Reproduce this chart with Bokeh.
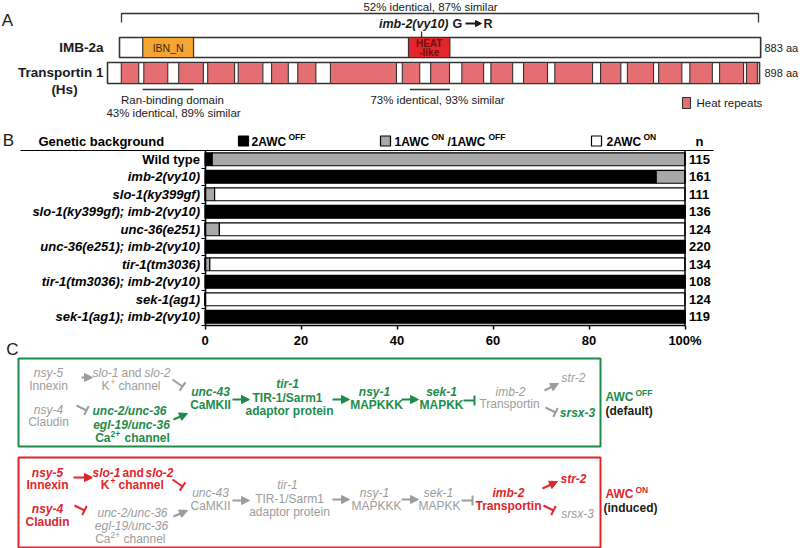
from bokeh.plotting import figure
from bokeh.models import (Range1d, ColumnDataSource, Arrow, NormalHead, TeeHead, FixedTicker)
from bokeh.layouts import column
from bokeh.embed import file_html
from bokeh.resources import INLINE
from bokeh.core.properties import value, field

FONT = "Liberation Sans"

# ---------------- Panel A data (protein domains, amino-acid positions) ----------------
imb2_length_aa = 883
trn1_length_aa = 898
imb2_ibn_n = [32, 102]
imb2_heat_like = [398, 455]
imb2_vy10_site = 416
trn1_heat_start = [19, 50, 98, 138, 180, 226, 262, 307, 406, 445,
                   488, 528, 573, 616, 679, 716, 759, 802, 843, 880]
trn1_heat_end = [43, 83, 132, 175, 214, 249, 287, 398, 430, 471,
                 518, 558, 606, 668, 707, 752, 791, 833, 876, 895]

# ---------------- Panel B data ----------------
genotypes = ["Wild type", "imb-2(vy10)", "slo-1(ky399gf)", "slo-1(ky399gf); imb-2(vy10)",
             "unc-36(e251)", "unc-36(e251); imb-2(vy10)", "tir-1(tm3036)",
             "tir-1(tm3036); imb-2(vy10)", "sek-1(ag1)", "sek-1(ag1); imb-2(vy10)"]
genotype_style = ["bold"] + ["bold italic"] * 9
pct_2awc_off = [1.5, 94, 0, 100, 0, 100, 0, 100, 0, 100]
pct_1on_1off = [98.5, 6, 2, 0, 3, 0, 1, 0, 0, 0]
pct_2awc_on = [0, 0, 98, 0, 97, 0, 99, 0, 100, 0]
n_animals = [115, 161, 111, 136, 124, 220, 134, 108, 124, 119]
pct_ticks = [0, 20, 40, 60, 80, 100]

# colours
C_EDGE = "#333333"
C_IBN = "#f5a531"
C_HEATLIKE = "#e2262b"
C_REPEAT = "#e46e72"
C_OFF = "#000000"
C_MID = "#a8a8a8"
C_ON = "#ffffff"
G = "#1d8c4a"
R = "#e0252b"
GR = "#9c9c9c"
K = "#1a1a1a"

STYLE = {"n": "normal", "i": "italic", "b": "bold", "bi": "bold italic"}


def add_texts(p, items, **kw):
    d = dict(x=[], y=[], text=[], color=[], style=[], size=[], align=[])
    for it in items:
        x, y, t, c, s, sz, al = it
        d["x"].append(x); d["y"].append(y); d["text"].append(t); d["color"].append(c)
        d["style"].append(STYLE[s]); d["size"].append(f"{sz}px"); d["align"].append(al)
    src = ColumnDataSource(d)
    p.text(x="x", y="y", text="text", source=src, text_color=field("color"),
           text_font_style=field("style"), text_font_size=field("size"),
           text_align=field("align"), text_baseline="middle", text_font=value(FONT), **kw)


def arrow(p, x0, y0, x1, y1, color, kind="arrow", size=8, **kw):
    if kind == "arrow":
        head = NormalHead(size=size, fill_color=color, line_color=color, line_width=1)
    else:
        head = TeeHead(size=size + 2, line_color=color, line_width=2)
    p.add_layout(Arrow(end=head, x_start=x0, y_start=y0, x_end=x1, y_end=y1,
                       line_color=color, line_width=2, **kw))


# =============================== Panel A ===============================
PX_PER_AA = 0.7261
TRN_X0 = 107.0


def ax(px):
    return (px - TRN_X0) / PX_PER_AA


IMB_X0 = ax(119)

pa = figure(width=800, height=126, x_range=Range1d(ax(0), ax(800)), y_range=Range1d(126, 0),
            output_backend="svg", toolbar_location=None, x_axis_location=None,
            y_axis_location=None, min_border=0, outline_line_color=None)
pa.grid.visible = False

# bracket + mutation tick
pa.multi_line(xs=[[ax(121), ax(121), ax(758), ax(758)]], ys=[[22, 13, 13, 22]],
              line_color=C_EDGE, line_width=1.3)
pa.segment(x0=[IMB_X0 + imb2_vy10_site], y0=[31], x1=[IMB_X0 + imb2_vy10_site], y1=[37],
           line_color=C_EDGE, line_width=1.3)

# IMB-2a
pa.quad(left=[IMB_X0], right=[IMB_X0 + imb2_length_aa], top=[37], bottom=[57],
        fill_color="white", line_color=C_EDGE, line_width=1.6)
pa.quad(left=[IMB_X0 + imb2_ibn_n[0]], right=[IMB_X0 + imb2_ibn_n[1]], top=[37], bottom=[57],
        fill_color=C_IBN, line_color=C_EDGE, line_width=1.2)
pa.quad(left=[IMB_X0 + imb2_heat_like[0]], right=[IMB_X0 + imb2_heat_like[1]], top=[37],
        bottom=[57], fill_color=C_HEATLIKE, line_color=C_EDGE, line_width=1.2)

# Transportin 1
pa.quad(left=[0], right=[trn1_length_aa], top=[62], bottom=[83],
        fill_color="white", line_color=C_EDGE, line_width=1.6)
pa.quad(left=trn1_heat_start, right=trn1_heat_end, top=62, bottom=83,
        fill_color=C_REPEAT, line_color=C_EDGE, line_width=1.1)

# underlines for conserved regions
pa.segment(x0=[IMB_X0 + imb2_ibn_n[0], IMB_X0 + imb2_heat_like[0] + 2],
           x1=[IMB_X0 + imb2_ibn_n[1], IMB_X0 + imb2_heat_like[1]],
           y0=[89, 89], y1=[89, 89], line_color=C_EDGE, line_width=1.3)

# legend swatch
pa.quad(left=[ax(682)], right=[ax(690)], top=[97], bottom=[108],
        fill_color=C_REPEAT, line_color=C_EDGE, line_width=1.1)

a_items = [
    (ax(7), 20, "A", K, "n", 17, "center"),
    (ax(430), 6, "52% identical, 87% similar", K, "n", 11.5, "center"),
    (ax(448), 23, "imb-2(vy10)", K, "bi", 12.5, "right"),
    (ax(452), 23, "G", K, "b", 12.5, "left"),
    (ax(483), 23, "R", K, "b", 12.5, "left"),
    (ax(103), 47, "IMB-2a", K, "b", 13.5, "right"),
    (IMB_X0 + sum(imb2_ibn_n) / 2, 47, "IBN_N", "#3a2a10", "n", 10.5, "center"),
    (IMB_X0 + sum(imb2_heat_like) / 2, 42.5, "HEAT", "#6e1010", "b", 10, "center"),
    (IMB_X0 + sum(imb2_heat_like) / 2, 52, "-like", "#6e1010", "b", 10, "center"),
    (ax(764), 47, "883 aa", K, "n", 11, "left"),
    (ax(103), 72, "Transportin 1", K, "b", 13.5, "right"),
    (ax(64), 89, "(Hs)", K, "b", 13.5, "center"),
    (ax(764), 72, "898 aa", K, "n", 11, "left"),
    (ax(172), 99, "Ran-binding domain", K, "n", 11.5, "center"),
    (ax(173), 112, "43% identical, 89% similar", K, "n", 11.5, "center"),
    (ax(437), 99, "73% identical, 93% similar", K, "n", 11.5, "center"),
    (ax(696), 102, "Heat repeats", K, "n", 11.5, "left"),
]
add_texts(pa, a_items)
arrow(pa, ax(465), 23, ax(481), 23, K, "arrow", size=6)


# =============================== Panels B + C ===============================
def bx(px):
    return (px - 204.5) / 4.8


def by(py):
    return (py - 158.75) / 17.5


rows = list(range(len(genotypes)))
src_b = ColumnDataSource(dict(row=rows, genotype=genotypes, gstyle=genotype_style,
                              off=pct_2awc_off, mid=pct_1on_1off, on=pct_2awc_on,
                              n=[str(v) for v in n_animals]))

pb = figure(width=800, height=422, x_range=Range1d(bx(0), bx(800)),
            y_range=Range1d(by(548), by(126)), output_backend="svg", toolbar_location=None,
            min_border=0, outline_line_color=None)
pb.grid.visible = False
pb.extra_x_ranges = {"px": Range1d(0, 800)}
pb.extra_y_ranges = {"px": Range1d(548, 126)}
PXR = dict(x_range_name="px", y_range_name="px")

pb.hbar_stack(["off", "mid", "on"], y="row", height=0.74, source=src_b,
              fill_color=[C_OFF, C_MID, C_ON], line_color="black", line_width=1.2)

xa = pb.xaxis[0]
xa.fixed_location = len(genotypes) - 0.5
xa.bounds = (0, 100)
xa.ticker = FixedTicker(ticks=pct_ticks)
xa.major_label_overrides = {100: "100%"}
xa.major_label_text_font = FONT
xa.major_label_text_font_style = "bold"
xa.major_label_text_font_size = "13px"
xa.major_label_text_color = "black"
xa.axis_line_width = 1.6
xa.axis_line_color = "black"
xa.major_tick_out = 4
xa.major_tick_in = 0
xa.major_tick_line_width = 1.4
xa.minor_tick_line_color = None
xa.major_label_standoff = 3

ya = pb.yaxis[0]
ya.fixed_location = 0
ya.bounds = (-0.5, len(genotypes) - 0.5)
ya.ticker = FixedTicker(ticks=[], minor_ticks=[r - 0.5 for r in range(len(genotypes) + 1)])
ya.axis_line_width = 1.6
ya.axis_line_color = "black"
ya.minor_tick_out = 4
ya.minor_tick_in = 0
ya.minor_tick_line_width = 1.2
ya.minor_tick_line_color = "black"

# right border line and header rule
pb.segment(x0=[100], x1=[100], y0=[-0.5], y1=[len(genotypes) - 0.5],
           line_color="black", line_width=1.5)
pb.segment(x0=[bx(20)], x1=[bx(713)], y0=[-0.5], y1=[-0.5], line_color="black", line_width=1.2)

# row labels and n
pb.text(x=0, y="row", text="genotype", source=src_b, x_offset=-5, text_align="right",
        text_baseline="middle", text_font=value(FONT), text_font_size="13px",
        text_font_style=field("gstyle"), text_color="black")
pb.text(x=100, y="row", text="n", source=src_b, x_offset=4, text_align="left",
        text_baseline="middle", text_font=value(FONT), text_font_size="13px",
        text_font_style="bold", text_color="black")

b_items = [
    (bx(8), by(140), "B", K, "n", 17, "center"),
    (bx(38), by(141), "Genetic background", "black", "b", 13, "left"),
    (bx(699), by(141), "n", "black", "b", 13, "center"),
    (bx(251), by(141), "2AWC", "black", "b", 12, "left"),
    (bx(288), by(136.5), "OFF", "black", "b", 8.5, "left"),
    (bx(394), by(141), "1AWC", "black", "b", 12, "left"),
    (bx(431), by(136.5), "ON", "black", "b", 8.5, "left"),
    (bx(447), by(141), "/1AWC", "black", "b", 12, "left"),
    (bx(488), by(136.5), "OFF", "black", "b", 8.5, "left"),
    (bx(606), by(141), "2AWC", "black", "b", 12, "left"),
    (bx(643), by(136.5), "ON", "black", "b", 8.5, "left"),
]
add_texts(pb, b_items)

# legend swatches
pb.quad(left=[bx(238), bx(380), bx(591)], right=[bx(248), bx(390), bx(601)],
        top=[by(135.5)] * 3, bottom=[by(145.5)] * 3,
        fill_color=[C_OFF, C_MID, C_ON], line_color="black", line_width=1.2)

# ---- Panel C (pixel-like coordinates on extra ranges)
pb.quad(left=[18, 18], right=[600, 600], top=[358, 457], bottom=[446, 547],
        fill_color=None, line_color=[G, R], line_width=2, **PXR)

FS = 12
SUP = 8.5
c_items = [
    (12, 349, "C", K, "n", 17, "center"),
    # ---- AWC OFF (green box)
    (48, 372, "nsy-5", GR, "i", FS, "center"), (48, 385, "Innexin", GR, "n", FS, "center"),
    (92, 372, "slo-1", GR, "i", FS, "left"), (121, 372, "and", GR, "n", FS, "left"),
    (144, 372, "slo-2", GR, "i", FS, "left"),
    (109, 385, "K", GR, "n", FS, "right"), (110, 381, "+", GR, "n", SUP, "left"),
    (118, 385, "channel", GR, "n", FS, "left"),
    (48, 409, "nsy-4", GR, "i", FS, "center"), (48, 421, "Claudin", GR, "n", FS, "center"),
    (129, 410, "unc-2/unc-36", G, "bi", FS, "center"),
    (131, 424, "egl-19/unc-36", G, "bi", FS, "center"),
    (110, 437, "Ca", G, "b", FS, "right"), (110, 433, "2+", G, "b", SUP, "left"),
    (124, 437, "channel", G, "b", FS, "left"),
    (210, 391, "unc-43", G, "bi", FS, "center"), (210, 404, "CaMKII", G, "b", FS, "center"),
    (287, 383, "tir-1", G, "bi", FS, "center"), (287, 397, "TIR-1/Sarm1", G, "b", FS, "center"),
    (289, 410, "adaptor protein", G, "b", FS, "center"),
    (374, 391, "nsy-1", G, "bi", FS, "center"), (376, 404, "MAPKKK", G, "b", FS, "center"),
    (441, 391, "sek-1", G, "bi", FS, "center"), (441, 404, "MAPKK", G, "b", FS, "center"),
    (510, 391, "imb-2", GR, "i", FS, "center"), (509, 403, "Transportin", GR, "n", FS, "center"),
    (573, 377, "str-2", GR, "i", FS, "center"),
    (577, 412, "srsx-3", G, "bi", FS, "center"),
    (605, 396, "AWC", G, "b", 12, "left"), (635, 392, "OFF", G, "b", SUP, "left"),
    (605, 410, "(default)", K, "b", 12, "left"),
    # ---- AWC ON (red box)
    (47, 472, "nsy-5", R, "bi", FS, "center"), (47, 484, "Innexin", R, "b", FS, "center"),
    (92, 472, "slo-1", R, "bi", FS, "left"), (122, 472, "and", R, "b", FS, "left"),
    (145, 472, "slo-2", R, "bi", FS, "left"),
    (109, 484, "K", R, "b", FS, "right"), (110, 480, "+", R, "b", SUP, "left"),
    (118, 484, "channel", R, "b", FS, "left"),
    (47, 508, "nsy-4", R, "bi", FS, "center"), (47, 521, "Claudin", R, "b", FS, "center"),
    (132, 512, "unc-2/unc-36", GR, "i", FS, "center"),
    (131, 525, "egl-19/unc-36", GR, "i", FS, "center"),
    (110, 538, "Ca", GR, "n", FS, "right"), (110, 534, "2+", GR, "n", SUP, "left"),
    (123, 538, "channel", GR, "n", FS, "left"),
    (210, 492, "unc-43", GR, "i", FS, "center"), (210, 505, "CaMKII", GR, "n", FS, "center"),
    (287, 484, "tir-1", GR, "i", FS, "center"), (289, 498, "TIR-1/Sarm1", GR, "n", FS, "center"),
    (289, 511, "adaptor protein", GR, "n", FS, "center"),
    (374, 492, "nsy-1", GR, "i", FS, "center"), (376, 505, "MAPKKK", GR, "n", FS, "center"),
    (438, 492, "sek-1", GR, "i", FS, "center"), (439, 505, "MAPKK", GR, "n", FS, "center"),
    (508, 492, "imb-2", R, "bi", FS, "center"), (508, 505, "Transportin", R, "b", FS, "center"),
    (573, 478, "str-2", R, "bi", FS, "center"),
    (577, 513, "srsx-3", GR, "i", FS, "center"),
    (605, 493, "AWC", R, "b", 12, "left"), (635, 489, "ON", R, "b", SUP, "left"),
    (603, 507, "(induced)", K, "b", 12, "left"),
]
add_texts(pb, c_items, **PXR)

for a in [(81, 377, 92, 377, GR, "arrow"), (172, 379, 182, 386, GR, "tee"),
          (76, 405, 86, 410, GR, "tee"), (173, 419, 187, 413, G, "arrow"),
          (232, 399, 249, 399, G, "arrow"), (332, 399, 349, 399, G, "arrow"),
          (401, 399, 418, 399, G, "arrow"), (463, 400, 474, 400, G, "tee"),
          (544, 390, 558, 383, GR, "arrow"), (545, 407, 555, 412, GR, "tee"),
          (73, 477, 92, 477, R, "arrow"), (172, 479, 182, 486, R, "tee"),
          (74, 505, 84, 510, R, "tee"), (173, 516, 187, 510, GR, "arrow"),
          (232, 500, 249, 500, GR, "arrow"), (332, 499, 349, 499, GR, "arrow"),
          (401, 499, 418, 499, GR, "arrow"), (461, 500, 472, 500, GR, "tee"),
          (542, 488, 557, 481, R, "arrow"), (543, 505, 553, 510, R, "tee")]:
    arrow(pb, a[0], a[1], a[2], a[3], a[4], a[5], **PXR)

layout = column(pa, pb, spacing=0)
open("out.html", "w").write(file_html(layout, INLINE))
